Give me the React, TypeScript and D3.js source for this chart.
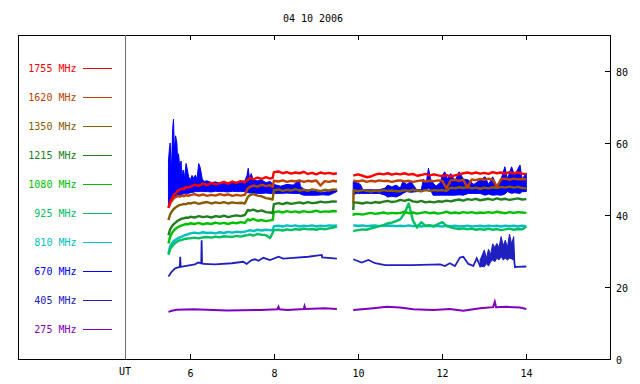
import React from 'react';
import * as d3 from 'd3';

// legend / series identity, top to bottom
const labels = ['1755 MHz', '1620 MHz', '1350 MHz', '1215 MHz', '1080 MHz', '925 MHz', '810 MHz', '670 MHz', '405 MHz', '275 MHz'];
const colors = ['#ff0000', '#c04000', '#8a5c00', '#208020', '#00c000', '#00c060', '#00c0c0', '#0000ff', '#2020c0', '#8000c0'];

const xTicks = [6, 8, 10, 12, 14];
const yTicks = [0, 20, 40, 60, 80];
const title = '04 10 2006';

// shared time grid (UT hours) for the smoother channels; null = gap between blocks
const hours = [
  5.48, 5.52, 5.56, 5.60, 5.65, 5.70, 5.75, 5.80, 5.85, 5.90, 5.95,
  6.0, 6.1, 6.2, 6.3, 6.4, 6.5, 6.6, 6.7, 6.8, 6.9, 7.0, 7.1, 7.2, 7.3,
  7.37, 7.42, 7.5, 7.6, 7.7, 7.8, 7.9, 7.96, 7.99,
  8.1, 8.2, 8.3, 8.4, 8.5, 8.6, 8.7, 8.8, 8.9, 9.0, 9.1, 9.2, 9.3, 9.4, 9.49,
  null,
  9.88, 9.89, 10.0, 10.1, 10.2, 10.3, 10.4, 10.5, 10.6, 10.7, 10.8, 10.9,
  11.0, 11.1, 11.2, 11.3, 11.4, 11.5, 11.6, 11.7, 11.8, 11.9,
  12.0, 12.1, 12.2, 12.3, 12.4, 12.5, 12.6, 12.7, 12.8, 12.9,
  13.0, 13.1, 13.2, 13.3, 13.4, 13.5, 13.6, 13.7, 13.8, 13.9, 14.0,
];

const v1755 = [
  42, 43.5, 44.5, 45.5, 46, 46.8, 47, 47.3, 47.2, 47.8, 47.6,
  47.8, 48.4, 48.1, 48.7, 48.3, 48.9, 48.5, 48.8, 49.2, 48.7, 49.3, 48.9, 49.4, 49.1,
  49.8, 50.3, 49.9, 50.4, 50.0, 50.5, 50.1, 50.3, 51.9,
  52.1, 51.6, 51.9, 51.5, 51.8, 51.6, 52.0, 51.4, 51.7, 51.3, 51.8, 51.5, 51.7, 51.4, 51.6,
  null,
  51.0, 51.0, 51.3, 50.9, 50.5, 50.7, 51.2, 51.5, 51.3, 51.6, 51.2, 51.5,
  51.3, 51.6, 51.2, 51.4, 50.9, 51.1, 51.4, 51.0, 51.3, 51.0,
  50.8, 51.1, 50.7, 51.0, 51.3, 51.6, 51.8, 51.5, 51.8, 51.5,
  51.7, 51.4, 51.9, 51.6, 51.8, 51.5, 51.9, 51.6, 51.8, 51.5, 51.4,
];

const v1620 = [
  42, 43.2, 44.0, 44.6, 45.0, 45.3, 45.1, 45.4, 45.2, 45.6, 45.3,
  45.5, 45.8, 45.4, 45.7, 45.3, 45.6, 45.4, 45.8, 45.5, 45.7, 45.3, 45.6, 45.4, 45.6,
  47.4, 47.8, 48.2, 47.9, 48.4, 48.0, 48.3, 47.8, 49.5,
  49.3, 49.6, 49.2, 49.5, 49.3, 49.6, 49.2, 49.5, 49.3, 49.6, 48.2, 49.4, 49.2, 49.5, 49.3,
  null,
  49.5, 49.5, 49.3, 49.6, 49.2, 49.5, 49.3, 49.6, 49.4, 49.5, 49.2, 49.5,
  49.6, 49.3, 49.5, 49.2, 49.4, 49.6, 49.3, 49.5, 49.4, 49.6,
  49.5, 47.4, 49.6, 49.8, 49.5, 49.8, 47.6, 49.9, 49.7, 50.0,
  49.8, 50.1, 49.8, 47.8, 50.0, 50.1, 49.8, 50.1, 49.9, 50.0, 49.9,
];

const v1350 = [
  38.6, 40.2, 41.0, 41.6, 42.1, 42.5, 42.8, 42.9, 43.1, 43.0, 43.3,
  43.2, 43.5, 43.1, 43.4, 43.6, 43.2, 43.5, 43.3, 43.6, 43.2, 43.5, 43.3, 43.4, 43.2,
  45.0, 45.5, 45.8, 45.4, 45.2, 44.7, 44.5, 44.3, 46.9,
  47.1, 46.7, 47.0, 46.8, 47.2, 46.8, 47.0, 46.7, 47.1, 46.9, 46.6, 47.0, 46.8, 47.1, 47.0,
  null,
  43.2, 46.9, 46.6, 46.9, 46.7, 46.5, 46.8, 46.6, 46.9, 46.7, 46.8, 46.6,
  46.6, 46.9, 46.7, 47.0, 46.8, 46.6, 46.9, 46.7, 46.9, 46.8,
  46.9, 46.7, 47.6, 47.4, 47.7, 47.5, 47.8, 47.4, 47.6, 47.3,
  47.6, 47.4, 47.7, 47.5, 47.8, 47.6, 47.9, 47.6, 47.8, 47.5, 47.4,
];

const v1215 = [
  34.4, 36.0, 36.8, 37.4, 37.9, 38.4, 38.7, 39.0, 39.1, 39.3, 39.2,
  39.5, 39.3, 39.7, 39.4, 39.6, 39.3, 39.7, 39.5, 39.8, 39.4, 39.7, 39.9, 39.7, 40.0,
  41.4, 41.2, 41.5, 41.0, 41.3, 40.8, 40.7, 40.5, 43.0,
  43.3, 43.0, 43.4, 43.1, 43.3, 43.5, 43.2, 43.6, 43.3, 43.4, 43.7, 43.5, 43.6, 43.8, 43.7,
  null,
  41.4, 43.5, 43.4, 43.2, 43.5, 43.3, 43.6, 43.4, 43.7, 43.9, 43.6, 43.8,
  44.2, 43.9, 44.3, 43.8, 43.6, 43.9, 43.5, 43.7, 43.5, 43.8,
  43.7, 44.0, 43.8, 44.1, 44.3, 44.0, 44.4, 44.2, 44.5, 44.1,
  44.3, 44.5, 44.2, 44.6, 44.3, 44.5, 44.2, 44.4, 44.6, 44.3, 44.4,
];

const v1080 = [
  32.1, 34.0, 34.9, 35.6, 36.2, 36.6, 36.9, 37.1, 37.3, 37.5, 37.4,
  37.7, 37.5, 37.8, 37.4, 37.7, 37.5, 37.9, 37.6, 37.8, 37.5, 37.9, 37.7, 38.0, 37.8,
  38.8, 38.5, 38.9, 38.4, 38.6, 38.3, 38.5, 38.6, 40.8,
  41.0, 40.7, 41.1, 40.8, 41.0, 40.7, 41.1, 40.8, 40.9, 41.2, 40.8, 41.0, 40.9, 41.1, 41.0,
  null,
  39.8, 40.2, 40.3, 40.1, 40.4, 40.6, 40.3, 40.5, 40.7, 40.4, 40.6, 40.5,
  40.6, 40.9, 40.5, 40.7, 40.4, 40.6, 40.8, 40.5, 40.7, 40.4,
  40.6, 40.9, 40.5, 40.7, 40.5, 40.8, 40.6, 40.8, 40.5, 40.7,
  40.6, 40.8, 40.6, 40.9, 40.7, 40.5, 40.8, 40.6, 40.8, 40.7, 40.6,
];

const v925 = [
  28.9, 30.5, 31.2, 31.8, 32.3, 32.7, 33.0, 33.1, 33.3, 33.4, 33.5,
  33.5, 33.7, 33.5, 33.8, 33.9, 33.7, 34.0, 33.8, 34.1, 34.0, 33.9, 34.2, 34.0, 34.3,
  34.4, 34.6, 34.3, 34.7, 34.5, 34.4, 33.6, 35.0, 35.8,
  35.9, 35.7, 36.0, 35.8, 36.1, 35.9, 36.2, 36.0, 36.1, 35.9, 36.2, 36.0, 36.3, 36.5, 36.8,
  null,
  35.6, 35.6, 35.8, 36.0, 35.9, 36.3, 36.6, 36.9, 37.2, 37.7, 37.9, 38.3,
  38.8, 40.5, 43.2, 38.5, 36.5, 38.0, 37.0, 37.2, 36.8, 37.5,
  38.0, 37.0, 36.6, 36.3, 36.1, 36.3, 36.0, 36.2, 35.9, 36.1,
  35.9, 36.2, 35.9, 36.1, 35.8, 36.0, 36.2, 35.9, 36.1, 36.0, 36.8,
];

const v810 = [
  29.3, 31.3, 32.1, 32.7, 33.1, 33.5, 33.8, 34.0, 34.3, 34.5, 34.7,
  34.9, 35.1, 34.9, 35.2, 35.0, 35.1, 34.9, 35.2, 35.0, 35.3, 35.1, 35.4, 35.2, 35.4,
  35.6, 35.8, 35.5, 35.9, 35.7, 35.9, 35.8, 35.7, 36.9,
  37.0, 36.8, 37.1, 36.9, 37.1, 36.8, 37.0, 36.9, 37.1, 36.8, 37.0, 36.9, 37.1, 37.0, 37.1,
  null,
  37.1, 37.1, 37.0, 37.1, 36.9, 37.0, 37.1, 36.9, 37.0, 37.1, 37.0, 36.9,
  37.0, 36.9, 37.1, 36.9, 37.0, 36.8, 37.0, 36.9, 37.0, 36.9,
  36.8, 37.0, 36.9, 37.0, 36.8, 36.9, 37.0, 36.8, 36.9, 37.0,
  36.8, 37.0, 36.9, 37.0, 36.8, 37.0, 36.9, 37.0, 36.8, 37.0, 36.9,
];

// 670 MHz is very noisy: drawn as a band between a low and a high trace
const t670 = [5.48, 5.50, 5.52, 5.55, 5.58, 5.60, 5.62, 5.65, 5.68, 5.70, 5.72, 5.75, 5.78, 5.80, 5.83, 5.86, 5.90, 5.93, 5.96, 6.00,
  6.04, 6.08, 6.12, 6.16, 6.20, 6.24, 6.28, 6.32, 6.40, 6.50, 6.60, 6.70, 6.80, 6.90, 7.00, 7.10, 7.20, 7.30, 7.35, 7.38,
  7.41, 7.45, 7.50, 7.60, 7.70, 7.80, 7.90, 7.97, 8.05, 8.15, 8.30, 8.45, 8.60, 8.62, 8.70, 8.85, 9.00, 9.15, 9.30, 9.49, null,
  9.88, 9.95, 10.05, 10.11, 10.3, 10.5, 10.64, 10.7, 10.8, 10.9, 11.0, 11.06, 11.15, 11.25, 11.39, 11.5, 11.55, 11.62, 11.67, 11.72,
  11.78, 11.85, 11.95, 12.0, 12.06, 12.12, 12.2, 12.3, 12.4, 12.5, 12.62, 12.75, 12.9, 13.02, 13.1, 13.2, 13.3, 13.4, 13.49, 13.55,
  13.65, 13.72, 13.85, 13.9, 14.0];
const hi670 = [55, 58, 60, 52, 64, 66.6, 58, 62, 60, 55, 57, 53, 55, 50.6, 52.5, 50.2, 54.3, 52.5, 50.6, 49.7,
  51, 50.2, 51.1, 50, 54.3, 53, 50.2, 49.3, 49.5, 49, 49.2, 48.8, 49.3, 48.6, 49.1, 48.7, 49.2, 49.5, 51, 53,
  50, 51.5, 49.7, 49.5, 49.7, 49, 49.3, 48.5, 48.3, 48, 48.5, 48.3, 49.7, 48, 47.2, 46.8, 46.5, 46.3, 46.5, 47, null,
  49.3, 49, 48.5, 47, 47, 47, 47.5, 48.3, 47.8, 48.3, 47.5, 49.3, 48.5, 49.3, 47, 47, 50, 49, 53, 50,
  48.9, 48, 49, 51, 52, 50, 51.5, 49.5, 52, 50, 49.7, 48.5, 49.7, 50.6, 48.5, 50.6, 48, 50, 53.4, 50,
  53.4, 51, 53.9, 50, 51.6];
const lo670 = [42, 42.5, 43, 43.5, 44, 44.5, 44.5, 45, 45, 45, 45.3, 45.5, 45.5, 45.5, 45.8, 46, 46, 46, 46, 46.2,
  46.3, 46.3, 46.5, 46.5, 46.5, 46.5, 46.5, 46.5, 46.5, 46.4, 46.6, 46.5, 46.5, 46.4, 46.6, 46.5, 46.5, 46.5, 46.2, 46.2,
  46.1, 46.1, 46.1, 46, 46, 46.1, 46, 46, 46, 46, 46.1, 46, 46, 45.8, 45.5, 45.5, 45.5, 45.6, 45.5, 46.5, null,
  45.5, 46, 46, 46, 46, 46, 45.5, 45, 45.2, 45, 45.5, 46, 46.5, 46.3, 46.5, 46.5, 47, 47, 47.4, 47,
  45.5, 45.5, 45.5, 45.5, 45.5, 45.5, 45.5, 45.5, 45.6, 45.5, 46, 46, 46, 45.5, 45.8, 45.5, 45.6, 45.5, 45.8, 46.5,
  46, 46.2, 46, 46.5, 46.5];

const t405 = [5.48, 5.56, 5.64, 5.75, 5.76, 5.77, 5.87, 6.11, 6.19, 6.26, 6.27, 6.28, 6.31, 6.59, 6.99, 7.26, 7.34, 7.46, 7.54, 7.62,
  7.74, 7.9, 8.1, 8.21, 8.45, 8.81, 9.13, 9.14, 9.49, null,
  9.88, 10.08, 10.24, 10.4, 10.64, 11.27, 11.95, 12.06, 12.18, 12.3, 12.42, 12.5, 12.62, 12.74, 12.82, 12.9, 12.95, 13.02, 13.1, 13.2,
  13.3, 13.4, 13.49, 13.6, 13.68, 13.71, 13.73, 13.77, 14.0];
const v405 = [22.9, 24.3, 25.2, 25.6, 28.4, 25.6, 25.8, 26.3, 26.8, 26.6, 33.0, 26.6, 26.4, 26.3, 26.6, 27.0, 26.4, 27.5, 27.7, 27.3,
  28.1, 27.5, 28.4, 27.9, 28.1, 28.4, 28.9, 28.2, 27.9, null,
  27.7, 26.8, 27.5, 26.6, 26.1, 26.1, 26.3, 25.8, 26.6, 25.8, 28.2, 28.4, 26.4, 25.9, 28.0, 25.8, 27.0, 27.5, 28, 29,
  29.5, 30, 30.5, 30.5, 31, 27.7, 25.5, 25.6, 25.7];
// noisy stretch of 405 MHz near the end
const t405n = [12.9, 13.0, 13.05, 13.1, 13.15, 13.2, 13.25, 13.3, 13.35, 13.4, 13.45, 13.5, 13.55, 13.6, 13.65, 13.7, 13.72];
const lo405n = [25.8, 25.6, 26.5, 25.8, 27, 27.5, 27, 28, 27.5, 28.5, 27.5, 28, 27.5, 28, 27.8, 27.5, 27.7];
const hi405n = [27.5, 30.3, 28, 30.5, 29, 32, 31, 32.1, 31, 34, 31.5, 33, 31, 34.7, 32, 34, 28];

const t275 = [5.48, 5.56, 5.68, 6.07, 6.87, 7.67, 8.07, 8.1, 8.12, 8.31, 8.7, 8.72, 8.74, 9.2, 9.49, null,
  9.88, 10.36, 10.68, 10.99, 11.31, 11.79, 12.18, 12.5, 12.9, 13.21, 13.25, 13.28, 13.53, 13.85, 14.0];
const v275 = [13.1, 13.4, 13.7, 13.8, 13.5, 13.6, 13.8, 14.5, 13.8, 13.6, 13.9, 14.7, 13.9, 14.1, 13.9, null,
  13.6, 14.1, 14.5, 14.3, 13.8, 13.6, 13.9, 13.4, 14.1, 14.4, 15.9, 14.4, 14.5, 14.3, 13.9];

type Pt = { t: number | null; v: number | null };
const zip = (t: (number | null)[], v: (number | null)[]): Pt[] => t.map((tt, i) => ({ t: tt, v: v[i] }));

// grid channels, drawn back to front (legend index)
const gridSeries: [number, (number | null)[]][] = [
  [6, v810], [5, v925], [4, v1080], [3, v1215], [2, v1350], [1, v1620], [0, v1755],
];

const W = 640;
const H = 384;
const left = 18;
const right = 610;
const top = 35;
const bottom = 359;
const utX = 125;

const x = d3.scaleLinear().domain([6, 16]).range([190.3, 610.3]);
const y = d3.scaleLinear().domain([0, 90]).range([bottom, top]);

const line = d3.line<Pt>()
  .defined(d => d.v != null && d.t != null)
  .x(d => x(d.t as number))
  .y(d => y(d.v as number));

type Band = { t: number | null; lo: number | null; hi: number | null };
const band = d3.area<Band>()
  .defined(d => d.t != null && d.lo != null)
  .x(d => x(d.t as number))
  .y0(d => y(d.lo as number))
  .y1(d => y(d.hi as number));

const band670: Band[] = t670.map((t, i) => ({ t, lo: lo670[i], hi: hi670[i] }));
const band405: Band[] = t405n.map((t, i) => ({ t, lo: lo405n[i], hi: hi405n[i] }));

const font = '"DejaVu Sans Mono", monospace';

export default function App() {
  return (
    <svg width={W} height={H} style={{ position: 'absolute', left: 0, top: 0, background: '#fff' }}
      fontFamily={font} fontSize={10}>
      <rect x={0} y={0} width={W} height={H} fill="#fff" />
      <text x={313} y={22} textAnchor="middle" fill="#000">{title}</text>

      {/* frame */}
      <rect x={left + 0.5} y={top + 0.5} width={right - left} height={bottom - top} fill="none" stroke="#000" strokeWidth={1} />
      <line x1={utX + 0.5} x2={utX + 0.5} y1={top} y2={bottom} stroke="#707070" strokeWidth={1} />

      {/* x ticks top and bottom */}
      {xTicks.map(t => {
        const px = Math.round(x(t)) + 0.5;
        return (
          <g key={t}>
            <line x1={px} x2={px} y1={top} y2={top + 5} stroke="#000" />
            <line x1={px} x2={px} y1={bottom} y2={bottom - 5} stroke="#000" />
            <text x={px} y={377} textAnchor="middle" fill="#000">{t}</text>
          </g>
        );
      })}
      <text x={utX} y={375} textAnchor="middle" fill="#000">UT</text>

      {/* y ticks on right */}
      {yTicks.map(v => {
        const py = Math.round(y(v)) + 0.5;
        return (
          <g key={v}>
            <line x1={right} x2={right - 5} y1={py} y2={py} stroke="#000" />
            <text x={616} y={py + 4} textAnchor="start" fill="#000">{v}</text>
          </g>
        );
      })}

      {/* legend */}
      {labels.map((l, i) => {
        const ly = 68 + i * 29;
        return (
          <g key={l}>
            <text x={76.5} y={ly + 4} textAnchor="end" fill={colors[i]}>{l}</text>
            <line x1={83} x2={112} y1={ly + 0.5} y2={ly + 0.5} stroke={colors[i]} strokeWidth={1} />
          </g>
        );
      })}

      {/* data */}
      <path d={line(zip(t275, v275)) || ''} fill="none" stroke={colors[9]} strokeWidth={2} />
      <path d={line(zip(t405, v405)) || ''} fill="none" stroke={colors[8]} strokeWidth={1.8} />
      <path d={band(band405) || ''} fill={colors[8]} stroke={colors[8]} strokeWidth={1} />
      <path d={band(band670) || ''} fill={colors[7]} stroke={colors[7]} strokeWidth={1} />
      {gridSeries.map(([i, vals]) => (
        <path key={i} d={line(zip(hours, vals)) || ''} fill="none" stroke={colors[i]} strokeWidth={2.4} strokeLinejoin="round" />
      ))}
    </svg>
  );
}
